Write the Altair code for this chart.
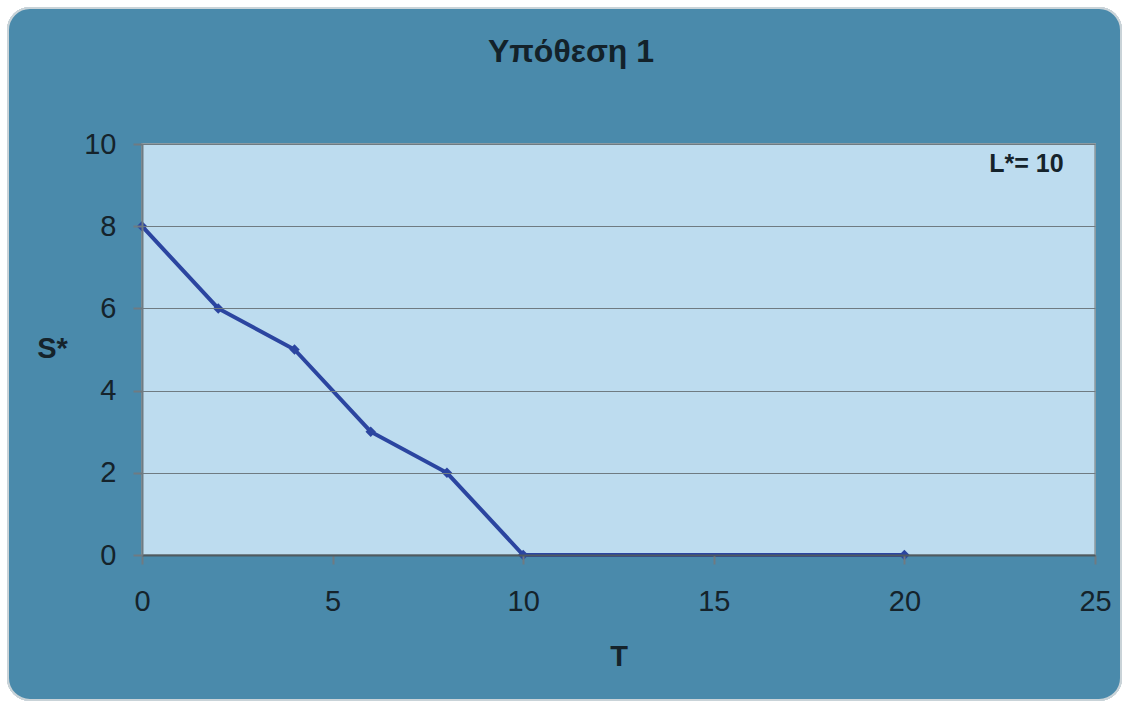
import altair as alt
import pandas as pd

# Series: equilibrium S* against T for L* = 10
t_values = [0, 2, 4, 6, 8, 10, 20]
s_values = [8, 6, 5, 3, 2, 0, 0]

x_ticks = [0, 5, 10, 15, 20, 25]
y_ticks = [0, 2, 4, 6, 8, 10]

note_text = ["L*= 10"]
note_t = [23.2]
note_s = [9.51]

title_text = ["Υπόθεση 1"]

df = pd.DataFrame({"T": t_values, "S": s_values})
notes = pd.DataFrame({"label": note_text, "T": note_t, "S": note_s})
titles = pd.DataFrame({"label": title_text})

FONT = "Liberation Sans"
LINE_COLOR = "#2b45a0"
GRID_COLOR = "#6f7b82"
LABEL_COLOR = "#15232b"
CARD_COLOR = "#4a8aab"
PLOT_FILL = "#bddcef"

W, H = 953, 411

x_enc = alt.X(
    "T:Q",
    scale=alt.Scale(domain=[0, 25], nice=False),
    axis=alt.Axis(
        values=x_ticks,
        title="T",
        titleFontSize=29,
        titleFontWeight="bold",
        titleColor=LABEL_COLOR,
        titleX=W / 2,
        titleY=101,
        titleBaseline="middle",
        titleAlign="center",
        labelFontSize=29,
        labelColor=LABEL_COLOR,
        labelPadding=23,
        labelFlush=False,
        tickSize=9,
        tickColor=GRID_COLOR,
        tickWidth=2,
        domainColor="#4f5a60",
        domainWidth=2,
        grid=False,
        zindex=1,
    ),
)

y_enc = alt.Y(
    "S:Q",
    scale=alt.Scale(domain=[0, 10], nice=False),
    axis=alt.Axis(
        values=y_ticks,
        title="S*",
        titleFontSize=29,
        titleFontWeight="bold",
        titleColor=LABEL_COLOR,
        titleAngle=0,
        titleX=-90,
        titleY=204,
        titleBaseline="middle",
        titleAlign="center",
        labelFontSize=29,
        labelColor=LABEL_COLOR,
        labelPadding=17,
        labelFlush=False,
        tickSize=9,
        tickColor=GRID_COLOR,
        tickWidth=2,
        domainColor=GRID_COLOR,
        domainWidth=2,
        grid=True,
        gridColor=GRID_COLOR,
        gridWidth=1.2,
        gridOpacity=1,
        zindex=1,
    ),
)

# Rounded card behind the whole figure, then the plot panel
card = alt.Chart(df).mark_rect(
    color=CARD_COLOR, cornerRadius=22, stroke="#c9d3d8", strokeWidth=2
).encode(
    x=alt.value(-134), x2=alt.value(W + 26),
    y=alt.value(-136), y2=alt.value(H + 145),
)

panel = alt.Chart(df).mark_rect(
    color=PLOT_FILL, stroke="#8a9aa3", strokeWidth=1.5
).encode(
    x=alt.value(0), x2=alt.value(W),
    y=alt.value(0), y2=alt.value(H),
)

heading = alt.Chart(titles).mark_text(
    font=FONT, fontSize=32, fontWeight="bold", color="#13222a",
    align="center", baseline="middle",
).encode(x=alt.value(429), y=alt.value(-92), text="label:N")

line = alt.Chart(df).mark_line(
    color=LINE_COLOR, strokeWidth=4,
    point=alt.OverlayMarkDef(shape="diamond", size=110, filled=True, color=LINE_COLOR),
).encode(x=x_enc, y=y_enc)

note = alt.Chart(notes).mark_text(
    font=FONT, fontSize=25, fontWeight="bold", color=LABEL_COLOR,
    align="center", baseline="middle",
).encode(x="T:Q", y="S:Q", text="label:N")

chart = (
    alt.layer(card, panel, heading, line, note)
    .properties(
        width=W,
        height=H,
        autosize=alt.AutoSizeParams(type="none"),
        padding={"left": 142, "top": 144, "right": 34, "bottom": 153},
        background="white",
    )
    .configure(font=FONT)
    .configure_view(stroke=None)
)

chart.save("out.html", embed_options={"renderer": "svg", "actions": False})
